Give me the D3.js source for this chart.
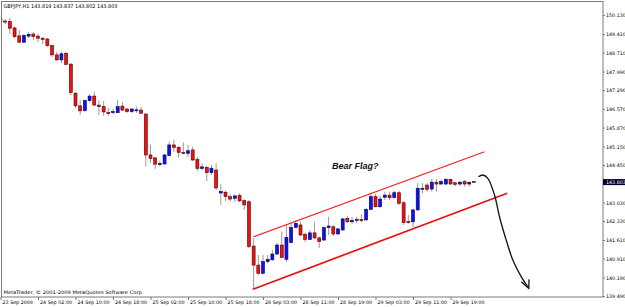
<!DOCTYPE html>
<html>
<head>
<meta charset="utf-8">
<script src="https://cdn.jsdelivr.net/npm/d3@7"></script>
<style>
  body { margin: 0; background: #fff; }
  svg { display: block; font-family: "DejaVu Sans", sans-serif; }
</style>
</head>
<body>
<svg id="chart" width="625" height="307"></svg>
<script>
const symbol = 'GBPJPY,H1';

// hourly bars, index 0 = 23 Sep 18:00
const open = [
  149.98, 149.90, 149.88, 149.64, 149.34, 149.10, 149.33, 149.41, 149.33, 149.25,
  149.22, 148.97, 148.62, 148.43, 148.68, 148.27, 147.17, 146.69, 146.51, 146.89,
  147.06, 146.72, 146.66, 146.44, 146.44, 146.43, 146.68, 146.57, 146.47, 146.53,
  146.53, 146.38, 144.83, 144.72, 144.47, 144.49, 144.81, 145.21, 145.12, 144.93,
  144.89, 145.02, 144.66, 144.32, 144.36, 144.16, 144.26, 143.39, 143.42, 143.25,
  143.19, 143.29, 143.10, 143.06, 141.38, 140.66, 140.35, 140.79, 140.86, 141.08,
  141.42, 140.88, 141.51, 142.09, 142.18, 141.83, 141.63, 141.88, 141.69, 141.61,
  142.08, 142.11, 141.84, 141.99, 142.43, 142.30, 142.37, 142.38, 142.37, 142.77,
  143.25, 142.87, 143.23, 143.31, 143.22, 143.40, 143.02, 142.31, 142.30, 142.75,
  143.54, 143.69, 143.54, 143.80, 143.73, 143.73, 143.91, 143.78, 143.73, 143.82,
  143.73, 143.819
];
const high = [
  150.09, 149.98, 150.02, 149.68, 149.56, 149.41, 149.48, 149.48, 149.41, 149.30,
  149.26, 148.99, 148.73, 148.74, 148.73, 148.31, 147.21, 146.91, 146.93, 147.14,
  147.23, 146.91, 146.87, 146.61, 146.57, 146.91, 146.83, 146.61, 146.61, 146.66,
  146.64, 146.40, 145.21, 144.75, 144.61, 144.87, 145.33, 145.40, 145.17, 145.31,
  145.21, 145.14, 144.76, 144.51, 144.41, 144.45, 144.51, 143.72, 143.48, 143.34,
  143.34, 143.38, 143.16, 143.12, 141.69, 141.04, 141.04, 141.04, 141.23, 141.50,
  141.93, 142.18, 142.30, 142.37, 142.30, 141.87, 141.99, 142.30, 141.73, 142.11,
  142.49, 142.18, 142.07, 142.43, 142.52, 142.49, 142.49, 142.58, 142.82, 143.35,
  143.35, 143.29, 143.44, 143.44, 143.48, 143.48, 143.09, 142.56, 142.79, 143.76,
  143.76, 143.76, 143.92, 143.91, 143.91, 143.95, 143.93, 143.80, 143.84, 143.88,
  143.80, 143.837
];
const low = [
  149.82, 149.79, 149.41, 149.26, 149.07, 149.07, 149.26, 149.18, 149.10, 149.03,
  148.92, 148.54, 148.39, 148.31, 148.24, 147.10, 146.61, 146.34, 146.46, 146.83,
  146.69, 146.34, 146.31, 146.31, 146.38, 146.42, 146.49, 146.42, 146.42, 146.42,
  146.38, 144.39, 144.53, 144.30, 144.39, 144.45, 144.79, 144.95, 144.73, 144.85,
  144.76, 144.60, 144.22, 144.26, 143.84, 144.07, 143.50, 142.94, 143.09, 143.06,
  143.04, 143.05, 142.75, 141.31, 139.74, 140.28, 140.32, 140.73, 140.82, 141.04,
  140.93, 140.79, 141.50, 142.05, 141.76, 141.54, 141.61, 141.65, 141.31, 141.57,
  141.80, 141.76, 141.80, 141.95, 142.26, 142.22, 142.24, 142.28, 142.35, 142.75,
  142.84, 142.83, 143.12, 143.12, 143.18, 142.94, 142.18, 142.22, 142.09, 142.71,
  143.38, 143.44, 143.44, 143.44, 143.69, 143.69, 143.70, 143.65, 143.65, 143.63,
  143.63, 143.802
];
const close = [
  149.90, 149.88, 149.63, 149.31, 149.10, 149.35, 149.40, 149.31, 149.25, 149.21,
  148.97, 148.62, 148.43, 148.66, 148.26, 147.19, 146.69, 146.50, 146.89, 147.06,
  146.72, 146.66, 146.46, 146.43, 146.47, 146.66, 146.53, 146.47, 146.57, 146.54,
  146.41, 144.83, 144.70, 144.48, 144.50, 144.83, 145.21, 145.11, 144.93, 144.92,
  144.99, 144.64, 144.32, 144.38, 144.16, 144.33, 143.58, 143.45, 143.25, 143.16,
  143.28, 143.09, 142.94, 141.36, 140.66, 140.35, 140.79, 140.88, 141.08, 141.42,
  140.95, 141.71, 142.09, 142.24, 141.80, 141.63, 141.88, 141.69, 141.56, 142.08,
  142.14, 141.84, 142.03, 142.41, 142.30, 142.35, 142.39, 142.37, 142.77, 143.25,
  142.87, 143.16, 143.31, 143.21, 143.40, 143.00, 142.27, 142.29, 142.75, 143.57,
  143.57, 143.53, 143.80, 143.73, 143.82, 143.91, 143.73, 143.72, 143.80, 143.73,
  143.80, 143.803
];

const priceTicks = [150.13, 149.41, 148.71, 147.99, 147.29, 146.57, 145.87, 145.15,
  144.45, 143.03, 142.33, 141.61, 140.91, 140.19, 139.49];
const timeTickIdx = [0, 8, 16, 24, 32, 40, 48, 56, 64, 72, 80, 88, 96];
const timeTickLabels = ['23 Sep 2009', '24 Sep 02:00', '24 Sep 10:00', '24 Sep 18:00',
  '25 Sep 02:00', '25 Sep 10:00', '25 Sep 18:00', '28 Sep 03:00', '28 Sep 11:00',
  '28 Sep 19:00', '29 Sep 03:00', '29 Sep 11:00', '29 Sep 19:00'];

// hand drawn annotations, [bar index, price]
const upperChannel = [[54.0, 141.735], [103.25, 144.954]];
const lowerChannel = [[53.8, 139.744], [108.1, 143.379]];
const arrowCurve = [[101.97, 144.007], [102.9, 144.072], [103.96, 143.947], [105.39, 143.314],
  [106.45, 142.492], [107.88, 141.61], [109.29, 140.853], [111.08, 140.221], [112.7, 139.781]];
const arrowHead = [[111.1, 140.03], [112.7, 139.781], [112.75, 140.12]];
const flagLabel = { text: 'Bear Flag?', idx: 70.7, price: 144.30 };

const width = 625, height = 307;
const plot = { left: 2, top: 2, right: 603, bottom: 297 };

const x = d3.scaleLinear().domain([0, 128]).range([0.5, 600.5]);
const y = d3.scaleLinear().domain([139.49, 150.13]).range([296, 15]);

const svg = d3.select('#chart');
svg.append('rect').attr('width', width).attr('height', height).attr('fill', '#fff');

svg.append('defs').append('clipPath').attr('id', 'plotClip')
  .append('rect')
  .attr('x', plot.left).attr('y', plot.top)
  .attr('width', plot.right - plot.left).attr('height', plot.bottom - plot.top);

const bars = open.map((o, i) => ({ i, o, h: high[i], l: low[i], c: close[i] }));

const g = svg.append('g').attr('clip-path', 'url(#plotClip)');

// wicks
g.append('g')
  .selectAll('line')
  .data(bars)
  .enter()
  .append('line')
  .attr('x1', d => x(d.i)).attr('x2', d => x(d.i))
  .attr('y1', d => y(d.h)).attr('y2', d => y(d.l))
  .attr('stroke', '#9a9a9a')
  .attr('stroke-width', 1);

// bodies
g.append('g')
  .selectAll('rect')
  .data(bars)
  .enter()
  .append('rect')
  .attr('x', d => x(d.i) - 1.5)
  .attr('width', 3)
  .attr('y', d => Math.min(y(d.o), y(d.c)))
  .attr('height', d => Math.max(1, Math.abs(y(d.o) - y(d.c))))
  .attr('fill', d => d.c < d.o ? '#ee1111' : '#1111ee')
  .attr('stroke', d => d.c < d.o ? '#5a0000' : '#00005a')
  .attr('stroke-width', 0.6);

// channel lines
const line = d3.line().x(d => x(d[0])).y(d => y(d[1]));
g.append('path').attr('d', line(upperChannel))
  .attr('fill', 'none').attr('stroke', '#ff1a1a').attr('stroke-width', 1.1);
g.append('path').attr('d', line(lowerChannel))
  .attr('fill', 'none').attr('stroke', '#e81010').attr('stroke-width', 1.7);

// arrow
g.append('path').attr('d', line.curve(d3.curveCatmullRom)(arrowCurve))
  .attr('fill', 'none').attr('stroke', '#111').attr('stroke-width', 1.3);
g.append('path').attr('d', d3.line().x(d => x(d[0])).y(d => y(d[1]))(arrowHead))
  .attr('fill', 'none').attr('stroke', '#111').attr('stroke-width', 1.3);

g.append('text')
  .attr('x', x(flagLabel.idx)).attr('y', y(flagLabel.price))
  .attr('font-family', '"Liberation Sans", Arial, sans-serif')
  .attr('font-size', 9).attr('font-weight', 'bold').attr('font-style', 'italic')
  .attr('fill', '#111')
  .text(flagLabel.text);

// frame
svg.append('rect')
  .attr('x', plot.left - 0.5).attr('y', plot.top - 0.5)
  .attr('width', plot.right - plot.left + 0.5).attr('height', plot.bottom - plot.top + 0.5)
  .attr('fill', 'none').attr('stroke', '#7a7a7a').attr('stroke-width', 1);

// price axis
const yAxis = svg.append('g')
  .attr('transform', `translate(${plot.right}, 0)`)
  .call(d3.axisRight(y).tickValues(priceTicks).tickSize(2).tickPadding(1)
    .tickFormat(d3.format('.3f')));
yAxis.select('.domain').remove();
yAxis.selectAll('line').attr('stroke', '#7a7a7a');
yAxis.selectAll('text').attr('font-size', 4.8).attr('font-family', '"DejaVu Sans", sans-serif')
  .attr('fill', '#000');

// current price tag
const last = close.length - 1;
svg.append('rect')
  .attr('x', plot.right).attr('y', y(close[last]) - 3)
  .attr('width', width - plot.right).attr('height', 6)
  .attr('fill', '#00002a');
svg.append('text')
  .attr('x', plot.right + 3).attr('y', y(close[last]) + 1.7)
  .attr('font-size', 4.8).attr('fill', '#fff')
  .text(d3.format('.3f')(close[last]));

// time axis
const xAxis = svg.append('g')
  .attr('transform', `translate(0, ${plot.bottom})`)
  .call(d3.axisBottom(x).tickValues(timeTickIdx).tickSize(3)
    .tickFormat((d, i) => timeTickLabels[i]));
xAxis.select('.domain').remove();
xAxis.selectAll('line').attr('stroke', '#7a7a7a');
xAxis.selectAll('text')
  .attr('text-anchor', 'start')
  .attr('x', 1.5).attr('y', 3.6)
  .attr('font-size', 4.8).attr('font-family', '"DejaVu Sans", sans-serif')
  .attr('fill', '#000');

// header and copyright
const fmt = d3.format('.3f');
svg.append('text')
  .attr('x', 3.5).attr('y', 8.2)
  .attr('font-size', 5).attr('fill', '#000')
  .attr('textLength', 114).attr('lengthAdjust', 'spacingAndGlyphs')
  .text(`${symbol} ${fmt(open[last])} ${fmt(high[last])} ${fmt(low[last])} ${fmt(close[last])}`);

svg.append('text')
  .attr('x', 3.5).attr('y', 294.3)
  .attr('font-size', 4.8).attr('fill', '#000')
  .attr('textLength', 140).attr('lengthAdjust', 'spacingAndGlyphs')
  .text('MetaTrader, © 2001-2009 MetaQuotes Software Corp.');
</script>
</body>
</html>
